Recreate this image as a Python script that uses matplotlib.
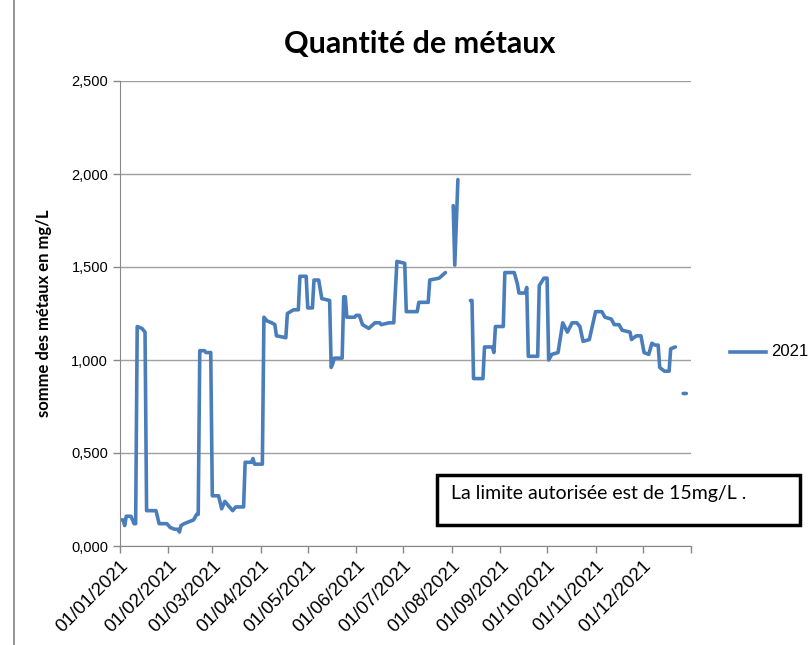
import matplotlib
matplotlib.use('Agg')
import matplotlib.pyplot as plt
from matplotlib.lines import Line2D
from matplotlib.patches import Rectangle
import numpy as np
import pandas as pd

# Sample dates (NaN rows break the line where no sample was taken)
dates = [
    '2021-01-01', '2021-01-03', '2021-01-04', '2021-01-05', '2021-01-08', '2021-01-10',
    '2021-01-11', '2021-01-12', '2021-01-15', '2021-01-17', '2021-01-18', '2021-01-24',
    '2021-01-26', '2021-01-31', '2021-02-02', '2021-02-05', '2021-02-07', '2021-02-08',
    '2021-02-09', '2021-02-11', '2021-02-14', '2021-02-17', '2021-02-19', '2021-02-20',
    '2021-02-21', '2021-02-24', '2021-02-25', '2021-02-28', '2021-03-01', '2021-03-05',
    '2021-03-07', '2021-03-09', '2021-03-11', '2021-03-14', '2021-03-16', '2021-03-21',
    '2021-03-22', '2021-03-26', '2021-03-27', '2021-03-28', '2021-04-02', '2021-04-03',
    '2021-04-05', '2021-04-08', '2021-04-10', '2021-04-11', '2021-04-17', '2021-04-18',
    '2021-04-22', '2021-04-25', '2021-04-26', '2021-04-30', '2021-05-01', '2021-05-04',
    '2021-05-05', '2021-05-08', '2021-05-10', '2021-05-15', '2021-05-16', '2021-05-17',
    '2021-05-18', '2021-05-23', '2021-05-24', '2021-05-25', '2021-05-26', '2021-05-31',
    '2021-06-01', '2021-06-03', '2021-06-05', '2021-06-09', '2021-06-13', '2021-06-16',
    '2021-06-17', '2021-06-22', '2021-06-25', '2021-06-27', '2021-07-02', '2021-07-03',
    '2021-07-10', '2021-07-11', '2021-07-17', '2021-07-18', '2021-07-24', '2021-07-28',
    '2021-07-30',
    '2021-08-02', '2021-08-03', '2021-08-05',
    '2021-08-09',
    '2021-08-13', '2021-08-14', '2021-08-15', '2021-08-21', '2021-08-22', '2021-08-27',
    '2021-08-28', '2021-08-29', '2021-09-03', '2021-09-04', '2021-09-10', '2021-09-12',
    '2021-09-13', '2021-09-17', '2021-09-18', '2021-09-19', '2021-09-25', '2021-09-26',
    '2021-09-29', '2021-10-01', '2021-10-02', '2021-10-04', '2021-10-08', '2021-10-11',
    '2021-10-14', '2021-10-17', '2021-10-20', '2021-10-22', '2021-10-24', '2021-10-28',
    '2021-11-01', '2021-11-04', '2021-11-05', '2021-11-07', '2021-11-11', '2021-11-13',
    '2021-11-16', '2021-11-18', '2021-11-23', '2021-11-24', '2021-11-27', '2021-11-30',
    '2021-12-02', '2021-12-05', '2021-12-07', '2021-12-09', '2021-12-11', '2021-12-12',
    '2021-12-15', '2021-12-18', '2021-12-19', '2021-12-22',
    '2021-12-24',
    '2021-12-27', '2021-12-29',
]

# Sum of metals in mg/L
values_2021 = [
    0.14, 0.14, 0.11, 0.16, 0.16, 0.12,
    0.12, 1.18, 1.17, 1.15, 0.19, 0.19,
    0.12, 0.12, 0.10, 0.09, 0.09, 0.075,
    0.11, 0.12, 0.13, 0.14, 0.17, 0.17,
    1.05, 1.05, 1.04, 1.04, 0.27, 0.27,
    0.20, 0.24, 0.22, 0.19, 0.21, 0.21,
    0.45, 0.45, 0.47, 0.44, 0.44, 1.23,
    1.21, 1.20, 1.19, 1.13, 1.12, 1.25,
    1.27, 1.27, 1.45, 1.45, 1.28, 1.28,
    1.43, 1.43, 1.33, 1.32, 0.96, 0.98,
    1.01, 1.01, 1.34, 1.34, 1.23, 1.23,
    1.24, 1.24, 1.19, 1.17, 1.20, 1.20,
    1.19, 1.20, 1.20, 1.53, 1.52, 1.26,
    1.26, 1.31, 1.31, 1.43, 1.44, 1.47,
    np.nan,
    1.83, 1.51, 1.97,
    np.nan,
    1.32, 1.32, 0.90, 0.90, 1.07, 1.07,
    1.04, 1.18, 1.18, 1.47, 1.47, 1.41,
    1.36, 1.36, 1.39, 1.02, 1.02, 1.40,
    1.44, 1.44, 1.00, 1.03, 1.04, 1.20,
    1.15, 1.20, 1.20, 1.18, 1.10, 1.11,
    1.26, 1.26, 1.26, 1.23, 1.22, 1.19,
    1.19, 1.16, 1.15, 1.11, 1.13, 1.13,
    1.04, 1.03, 1.09, 1.08, 1.08, 0.96,
    0.94, 0.94, 1.06, 1.07,
    np.nan,
    0.82, 0.82,
]

y_ticks = [0.0, 0.5, 1.0, 1.5, 2.0, 2.5]
month_ticks = pd.date_range('2021-01-01', '2022-01-01', freq='MS')

x = pd.to_datetime(dates)

fig = plt.figure(figsize=(8.09, 6.45), dpi=100)
ax = fig.add_axes([120 / 809, 99 / 645, 571 / 809, 465 / 645])

ax.plot(x, values_2021, color='#4A7EBB', lw=2.6, solid_joinstyle='round',
        solid_capstyle='round')

ax.set_xlim(pd.Timestamp('2021-01-01'), pd.Timestamp('2022-01-01'))
ax.set_ylim(0, 2.5)

ax.set_yticks(y_ticks)
ax.set_yticklabels([f'{v:.3f}'.replace('.', ',') for v in y_ticks],
                   fontfamily='Liberation Sans', fontsize=10.5)
ax.yaxis.grid(True, color='#A0A0A0', lw=1)
ax.set_axisbelow(True)

ax.set_xticks(month_ticks)
ax.set_xticklabels([d.strftime('%d/%m/%Y') for d in month_ticks[:-1]] + [''],
                   rotation=45, ha='right', rotation_mode='anchor',
                   fontfamily='Liberation Sans', fontsize=13.5)

for side in ['top', 'right']:
    ax.spines[side].set_visible(False)
for side in ['left', 'bottom']:
    ax.spines[side].set_color('#888888')
ax.tick_params(axis='both', colors='#888888', labelcolor='black', length=5, width=1)
ax.tick_params(axis='x', pad=3)

ax.set_ylabel('somme des métaux en mg/L', fontfamily='Lato', fontweight='bold',
              fontsize=12)
ax.yaxis.set_label_coords(-68 / 571, 0.5)

fig.text(420 / 809, 1 - 44 / 645, 'Quantité de métaux', fontfamily='Lato',
         fontweight='bold', fontsize=22, ha='center', va='center')

# legend
fig.add_artist(Line2D([730 / 809, 766 / 809], [1 - 352 / 645, 1 - 352 / 645],
                      color='#4A7EBB', lw=2.6))
fig.text(771 / 809, 1 - 352 / 645, '2021', fontfamily='Liberation Sans',
         fontsize=12, va='center', ha='left')

# note box
fig.add_artist(Rectangle((437 / 809, 1 - 525 / 645), 363 / 809, 50 / 645,
                         transform=fig.transFigure, fill=False,
                         edgecolor='black', lw=2.5))
fig.text(451 / 809, 1 - 493 / 645, 'La limite autorisée est de 15mg/L .',
         fontfamily='Lato', fontsize=14, va='center', ha='left')

# outer chart frame edge
fig.add_artist(Line2D([14 / 809, 14 / 809], [0, 1], color='#808080', lw=1.2))

plt.savefig('out.png', dpi=100)
